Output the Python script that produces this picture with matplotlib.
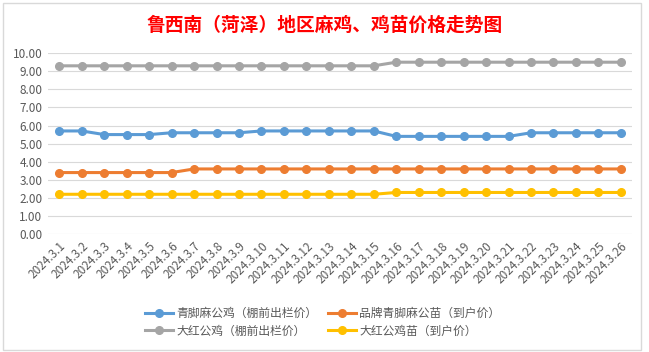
import matplotlib.pyplot as plt
from matplotlib.patches import Rectangle

plt.rcParams['font.family'] = ['Noto Sans CJK SC', 'DejaVu Sans']

# Dates on the category axis
dates = ['2024.3.%d' % d for d in range(1, 27)]

# Prices (yuan)
qingjiao_rooster = [5.7, 5.7, 5.5, 5.5, 5.5, 5.6, 5.6, 5.6, 5.6, 5.7, 5.7, 5.7, 5.7,
                    5.7, 5.7, 5.4, 5.4, 5.4, 5.4, 5.4, 5.4, 5.6, 5.6, 5.6, 5.6, 5.6]
brand_chick = [3.4, 3.4, 3.4, 3.4, 3.4, 3.4, 3.6, 3.6, 3.6, 3.6, 3.6, 3.6, 3.6,
               3.6, 3.6, 3.6, 3.6, 3.6, 3.6, 3.6, 3.6, 3.6, 3.6, 3.6, 3.6, 3.6]
dahong_rooster = [9.3] * 15 + [9.5] * 11
dahong_chick = [2.2] * 15 + [2.3] * 11

series = [
    ('青脚麻公鸡（棚前出栏价）', qingjiao_rooster, '#5B9BD5'),
    ('大红公鸡（棚前出栏价）', dahong_rooster, '#A5A5A5'),
    ('品牌青脚麻公苗（到户价）', brand_chick, '#ED7D31'),
    ('大红公鸡苗（到户价）', dahong_chick, '#FFC000'),
]

fig = plt.figure(figsize=(6.49, 3.52), dpi=100)
ax = fig.add_axes([0.074, 0.335, 0.9, 0.514])

x = list(range(len(dates)))
for label, vals, color in series:
    ax.plot(x, vals, color=color, lw=2.2, marker='o', ms=5.5, label=label, zorder=3)

ax.set_xlim(-0.5, len(dates) - 0.5)
ax.set_ylim(0, 10)
ax.set_yticks([i for i in range(11)])
ax.set_yticklabels(['%.2f' % i for i in range(11)], fontsize=8.5, color='#595959')
ax.set_xticks(x)
ax.set_xticklabels(dates, rotation=45, ha='right', rotation_mode='anchor',
                   fontsize=8.5, color='#595959')
ax.tick_params(length=0, pad=4)
ax.grid(axis='y', color='#D9D9D9', lw=0.8)
ax.set_axisbelow(True)
for s in ax.spines.values():
    s.set_visible(False)

fig.suptitle('鲁西南（菏泽）地区麻鸡、鸡苗价格走势图', color='red',
             fontsize=13.5, fontweight='bold', y=0.955)

ax.legend(loc='center', bbox_to_anchor=(0.47, -0.486), ncol=2, frameon=False,
          fontsize=8.5, labelcolor='#595959', handlelength=2.4, columnspacing=0.85,
          handletextpad=0.3, labelspacing=0.4, borderaxespad=0)

fig.patches.append(Rectangle((0.004, 0.006), 0.984, 0.985, transform=fig.transFigure,
                             fill=False, ec='#D9D9D9', lw=1))

fig.savefig('out.png', dpi=100)
